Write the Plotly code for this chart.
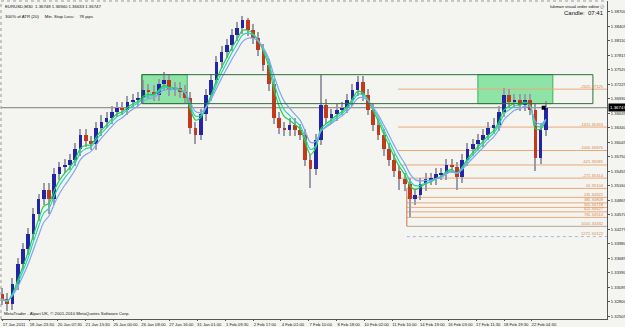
import plotly.graph_objects as go
import pandas as pd

# ---------------- data (EURUSD, candles of 12 x M30 bars) ----------------
first_open = 1.3295
closes = [1.3285, 1.3275, 1.3316, 1.3356, 1.3387, 1.3417, 1.3458, 1.3488, 1.3508, 1.3488,
          1.3539, 1.3553, 1.3559, 1.3569, 1.3590, 1.3620, 1.3606, 1.3600, 1.3634, 1.3646,
          1.3654, 1.3667, 1.3675, 1.3671, 1.3687, 1.3691, 1.3695, 1.3711, 1.3707, 1.3701,
          1.3722, 1.3732, 1.3711, 1.3715, 1.3707, 1.3695, 1.3634, 1.3620, 1.3661, 1.3701,
          1.3732, 1.3768, 1.3789, 1.3803, 1.3823, 1.3837, 1.3853, 1.3833, 1.3817, 1.3793,
          1.3762, 1.3722, 1.3654, 1.3634, 1.3630, 1.3640, 1.3630, 1.3620, 1.3569, 1.3549,
          1.3610, 1.3681, 1.3654, 1.3661, 1.3671, 1.3675, 1.3691, 1.3711, 1.3728, 1.3701,
          1.3671, 1.3640, 1.3620, 1.3590, 1.3569, 1.3545, 1.3529, 1.3519, 1.3488, 1.3498,
          1.3519, 1.3529, 1.3529, 1.3539, 1.3539, 1.3559, 1.3553, 1.3533, 1.3569, 1.3590,
          1.3600, 1.3610, 1.3620, 1.3634, 1.3640, 1.3667, 1.3701, 1.3687, 1.3691, 1.3681,
          1.3691, 1.3671, 1.3573, 1.3630, 1.36747]
highs = [1.3307, 1.3297, 1.3328, 1.3368, 1.3399, 1.3429, 1.3470, 1.3500, 1.3521, 1.3521,
         1.3551, 1.3565, 1.3571, 1.3581, 1.3602, 1.3632, 1.3632, 1.3618, 1.3646, 1.3659,
         1.3667, 1.3679, 1.3687, 1.3687, 1.3699, 1.3703, 1.3707, 1.3732, 1.3724, 1.3720,
         1.3734, 1.3748, 1.3744, 1.3728, 1.3728, 1.3720, 1.3707, 1.3646, 1.3673, 1.3713,
         1.3744, 1.3780, 1.3801, 1.3815, 1.3835, 1.3849, 1.3862, 1.3858, 1.3845, 1.3829,
         1.3805, 1.3774, 1.3734, 1.3667, 1.3646, 1.3653, 1.3653, 1.3642, 1.3632, 1.3581,
         1.3622, 1.3742, 1.3693, 1.3673, 1.3683, 1.3687, 1.3703, 1.3724, 1.3740, 1.3740,
         1.3713, 1.3683, 1.3653, 1.3632, 1.3602, 1.3581, 1.3557, 1.3541, 1.3531, 1.3510,
         1.3531, 1.3541, 1.3541, 1.3551, 1.3551, 1.3571, 1.3571, 1.3565, 1.3581, 1.3602,
         1.3612, 1.3622, 1.3632, 1.3646, 1.3653, 1.3679, 1.3715, 1.3713, 1.3703, 1.3703,
         1.3703, 1.3703, 1.3683, 1.3642, 1.3689]
lows = [1.3273, 1.3261, 1.3263, 1.3303, 1.3344, 1.3374, 1.3405, 1.3445, 1.3476, 1.3458,
        1.3476, 1.3527, 1.3541, 1.3547, 1.3557, 1.3577, 1.3594, 1.3588, 1.3588, 1.3618,
        1.3634, 1.3642, 1.3655, 1.3659, 1.3659, 1.3675, 1.3679, 1.3683, 1.3695, 1.3689,
        1.3689, 1.3709, 1.3699, 1.3699, 1.3695, 1.3683, 1.3622, 1.3600, 1.3608, 1.3648,
        1.3689, 1.3720, 1.3756, 1.3776, 1.3791, 1.3811, 1.3825, 1.3821, 1.3805, 1.3780,
        1.3750, 1.3709, 1.3642, 1.3622, 1.3618, 1.3618, 1.3618, 1.3608, 1.3557, 1.3512,
        1.3537, 1.3598, 1.3642, 1.3642, 1.3648, 1.3659, 1.3663, 1.3679, 1.3699, 1.3689,
        1.3659, 1.3628, 1.3608, 1.3577, 1.3557, 1.3533, 1.3508, 1.3506, 1.3452, 1.3476,
        1.3486, 1.3506, 1.3517, 1.3517, 1.3527, 1.3527, 1.3541, 1.3508, 1.3521, 1.3557,
        1.3577, 1.3588, 1.3594, 1.3608, 1.3622, 1.3628, 1.3655, 1.3675, 1.3675, 1.3669,
        1.3669, 1.3659, 1.3545, 1.3561, 1.3618]
bars_per_candle = 12

date_labels = ["17 Jan 2011", "18 Jan 23:30", "20 Jan 07:30", "21 Jan 15:30", "25 Jan 00:00",
               "26 Jan 08:00", "27 Jan 16:00", "31 Jan 01:00", "1 Feb 09:30", "2 Feb 17:00",
               "4 Feb 01:00", "7 Feb 10:00", "8 Feb 18:00", "10 Feb 02:00", "11 Feb 10:00",
               "14 Feb 19:00", "16 Feb 03:00", "17 Feb 11:30", "18 Feb 19:30", "22 Feb 04:30"]
bars_per_label = 64

price_ticks = [1.38700, 1.38405, 1.38110, 1.37815, 1.37520, 1.37225, 1.36930, 1.36635,
               1.36340, 1.36045, 1.35750, 1.35455, 1.35160, 1.34865, 1.34570, 1.34275,
               1.33980, 1.33685, 1.33390, 1.33095, 1.32800, 1.32505]

ema_spans = [3.5, 4.5, 6]
ema_colors = ["#22d050", "#2fd3b8", "#7fa6ee"]

# Fibonacci object
fib_top, fib_bottom = 1.35104, 1.34332
fib_ratios = [-2.618, -1.618, -1.0, -0.618, -0.272, 0.0, 0.236, 0.382, 0.5, 0.618, 0.764, 1.0, 1.272]
fib_names = ["-262", "-161", "-100", "-62", "-27", "0", "24", "38", "50", "62", "76", "100", "127"]
fib_start_upper, fib_start_lower = 909, 929

# zone objects (order editor)
zone_top, zone_bottom = 1.3742, 1.3683
zone_outer = (321, 1356)
zone_left_fill = (321, 425)
zone_right_fill = (1092, 1264)

last_price = 1.36747
header = "EURUSD,M30  1.36748 1.36940 1.36633 1.36747"
atr_text = "300% of ATR (20)     Min. Stop Loss:    78 pips"
# -------------------------------------------------------------------------

n = len(closes)
x = [i * bars_per_candle for i in range(n)]
opens = [first_open] + closes[:-1]
body_hi = [max(o, c) for o, c in zip(opens, closes)]
body_lo = [min(o, c) for o, c in zip(opens, closes)]
body_col = ["#2424a6" if c >= o else "#c23a1e" for o, c in zip(opens, closes)]

FONT = "Liberation Sans"
fig = go.Figure()

shapes = []
for (x0, x1) in [zone_left_fill, zone_right_fill]:
    shapes.append(dict(type="rect", xref="x", yref="y", x0=x0, x1=x1, y0=zone_bottom, y1=zone_top,
                       fillcolor="#8ee4a6", line=dict(color="#3bb05a", width=1), layer="below"))
shapes.append(dict(type="rect", xref="x", yref="y", x0=zone_outer[0], x1=zone_outer[1],
                   y0=zone_bottom, y1=zone_top, fillcolor="rgba(0,0,0,0)",
                   line=dict(color="#2f6f3a", width=1), layer="above"))

rng = fib_top - fib_bottom
fib_prices = [fib_top - r * rng for r in fib_ratios]
for r, p in zip(fib_ratios, fib_prices):
    start = fib_start_upper if r < 0 else fib_start_lower
    col = "#eba878"
    dash = "solid"
    if r == 1.0:
        col = "#b8a898"
    if r > 1.0:
        col = "#a8b4d4"
        dash = "dot"
    shapes.append(dict(type="line", xref="x", yref="y", x0=start, x1=1400, y0=p, y1=p,
                       line=dict(color=col, width=1, dash=dash), layer="below"))
shapes.append(dict(type="line", xref="x", yref="y", x0=fib_start_lower, x1=fib_start_lower,
                   y0=fib_top, y1=fib_bottom, line=dict(color="#c87848", width=1), layer="below"))
shapes.append(dict(type="line", xref="paper", yref="y", x0=0, x1=1, y0=last_price, y1=last_price,
                   line=dict(color="#7c7c7c", width=1), layer="below"))
shapes.append(dict(type="line", xref="paper", yref="paper", x0=0, x1=1, y0=1, y1=1,
                   line=dict(color="#999999", width=1, dash="dot")))
shapes.append(dict(type="line", xref="paper", yref="paper", x0=0, x1=0, y0=0, y1=1,
                   line=dict(color="#999999", width=1, dash="dot")))

# gray high-low wicks
fig.add_trace(go.Bar(x=x, base=lows, y=[h - l for h, l in zip(highs, lows)], width=2.6,
                     marker=dict(color="#9c9ca8", line=dict(width=0)),
                     showlegend=False, hoverinfo="skip"))
# coloured bodies
fig.add_trace(go.Bar(x=x, base=body_lo, y=[max(h - l, 0.00008) for h, l in zip(body_hi, body_lo)],
                     width=8.5, marker=dict(color=body_col, line=dict(width=0)),
                     showlegend=False, hoverinfo="skip"))

s = pd.Series(closes)
for span, col in zip(ema_spans, ema_colors):
    ema = s.ewm(span=span, adjust=False).mean()
    fig.add_trace(go.Scatter(x=x, y=ema, mode="lines", line=dict(color=col, width=1.2, shape="spline"),
                             showlegend=False, hoverinfo="skip"))

fig.add_trace(go.Scatter(x=[x[-1] - 5], y=[closes[-1]], mode="markers",
                         marker=dict(symbol="square", size=4, color="black"),
                         showlegend=False, hoverinfo="skip"))

ann = []
for name, p in zip(fib_names, fib_prices):
    ann.append(dict(xref="paper", yref="y", x=0.9735, y=p, text=name, showarrow=False,
                    xanchor="right", yanchor="bottom", yshift=-1.5,
                    font=dict(family=FONT, size=4.2, color="#d9894e")))
    ann.append(dict(xref="paper", yref="y", x=0.999, y=p, text=f"{p:.5f}", showarrow=False,
                    xanchor="right", yanchor="bottom", yshift=-1.5,
                    font=dict(family=FONT, size=4.2, color="#d9894e")))
ann.append(dict(xref="paper", yref="y", x=1.0, xshift=1, y=last_price, text=f"{last_price:.5f}",
                showarrow=False, xanchor="left", yanchor="middle", bgcolor="black",
                borderpad=1, font=dict(family=FONT, size=4.4, color="white")))
ann.append(dict(xref="paper", yref="paper", x=0.004, y=0.997, text=header, showarrow=False,
                xanchor="left", yanchor="top", font=dict(family=FONT, size=4.3, color="#111111")))
ann.append(dict(xref="paper", yref="paper", x=0.004, y=0.966, text=atr_text, showarrow=False,
                xanchor="left", yanchor="top", font=dict(family=FONT, size=4.3, color="#111111")))
ann.append(dict(xref="paper", yref="paper", x=0.998, y=0.997, text="lukman visual order editor \u24d8",
                showarrow=False, xanchor="right", yanchor="top",
                font=dict(family=FONT, size=4.3, color="#111111")))
ann.append(dict(xref="paper", yref="paper", x=0.998, y=0.978, text="Candle:  07:41",
                showarrow=False, xanchor="right", yanchor="top",
                font=dict(family=FONT, size=6, color="#111111")))
ann.append(dict(xref="paper", yref="paper", x=0.002, y=0.003, text="MetaTrader - Alpari UK, \u00a9 2001-2010 MetaQuotes Software Corp.",
                showarrow=False, xanchor="left", yanchor="bottom",
                font=dict(family=FONT, size=4.3, color="#111111")))

fig.update_layout(
    width=625, height=327,
    margin=dict(l=1, r=18, t=1, b=8),
    paper_bgcolor="#f4f5f1", plot_bgcolor="#f4f5f1",
    barmode="overlay", bargap=0,
    shapes=shapes, annotations=ann, showlegend=False,
    xaxis=dict(range=[-2.3, 1388.3],
               tickvals=[j * bars_per_label for j in range(len(date_labels))], ticktext=date_labels,
               ticks="outside", ticklen=1, tickcolor="#555555", ticklabelshift=12, ticklabelstandoff=0,
               tickfont=dict(family=FONT, size=4.2, color="#222222"),
               showgrid=False, zeroline=False, showline=True, linecolor="#555555", linewidth=1,
               automargin=False, fixedrange=True),
    yaxis=dict(range=[1.32445, 1.38920], side="right", tickvals=price_ticks,
               tickformat=".5f", ticks="outside", ticklen=2, tickcolor="#555555",
               tickfont=dict(family=FONT, size=4.2, color="#222222"),
               showgrid=False, zeroline=False, showline=True, linecolor="#555555", linewidth=1,
               automargin=False, fixedrange=True),
)

fig.write_html("out.html")
